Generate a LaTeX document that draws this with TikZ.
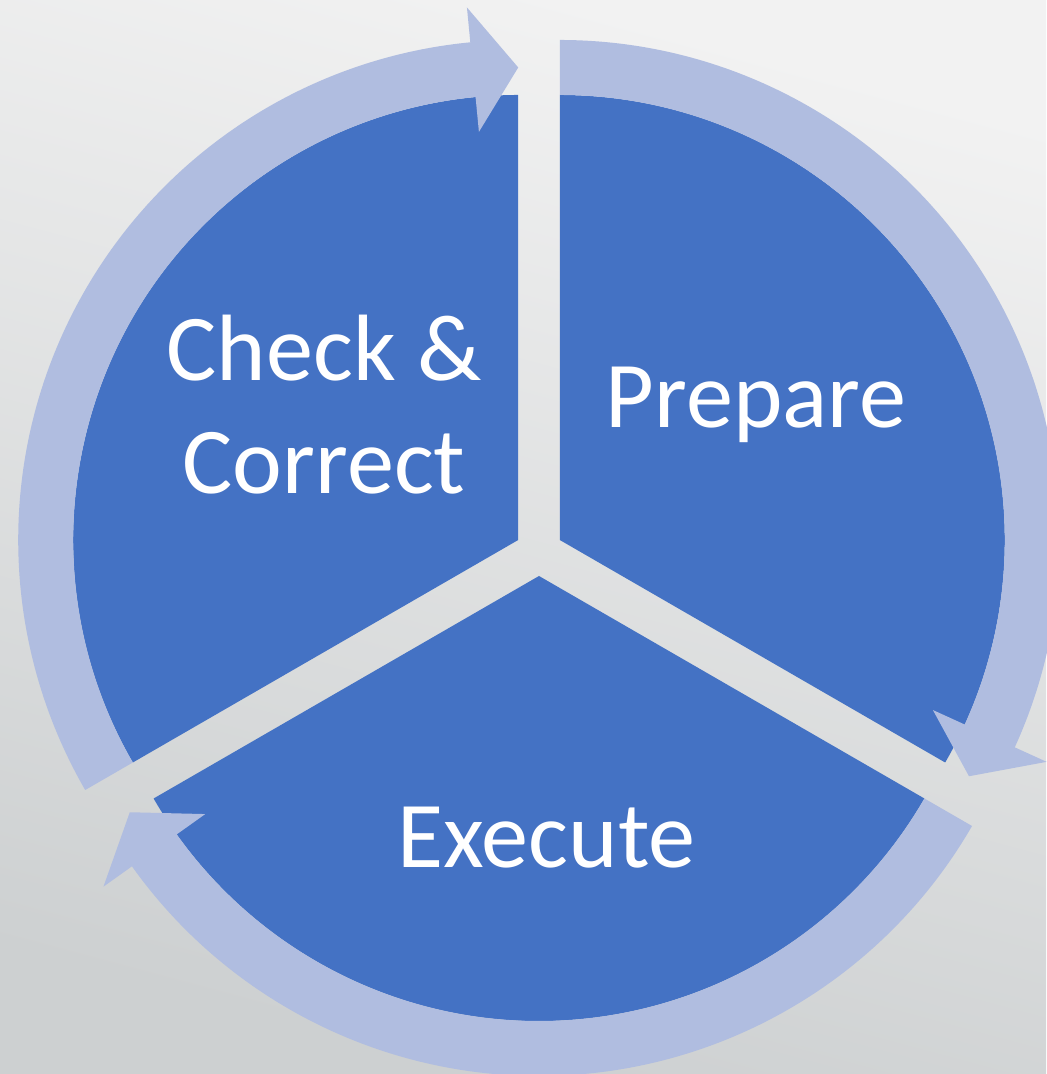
\documentclass[tikz,border=0pt]{standalone}
\usepackage{fontspec}
\setmainfont{Carlito}
\definecolor{secblue}{RGB}{68,114,196}
\definecolor{ringblue}{RGB}{176,189,224}
\definecolor{bgtop}{RGB}{242,242,242}
\definecolor{bgbot}{RGB}{205,208,209}
\tikzset{
  steptext/.style={text=white,font=\fontsize{26.8}{32.4}\selectfont,
    inner sep=0pt,anchor=base,align=center}
}
\begin{document}
\begin{tikzpicture}[x=0.01cm,y=0.01cm]
  % Hintergrund
  \useasboundingbox (-539,-522) rectangle (507,552);
  \shade[top color=bgtop,bottom color=bgbot,shading angle=-15] (-539,-522) rectangle (507,552);
  % Segmente mit Pfeilring
  \foreach \b in {30,150,270} {
    \begin{scope}[shift={(\b:24)}]
      \fill[secblue] (0,0) -- ({\b+60}:445) arc[start angle=\b+60,end angle=\b-60,radius=445] -- cycle;
      \fill[ringblue] ({\b+60}:500) arc[start angle=\b+60,end angle=\b-54.5,radius=500]
        -- ({\b-54.5}:535) -- ({\b-60}:472.5) -- ({\b-54.5}:410) -- ({\b-54.5}:445)
        arc[start angle=\b-54.5,end angle=\b+60,radius=445] -- cycle;
    \end{scope}
  }
  % Beschriftung
  \node[steptext] (check) at (-215,58) {Check \&\\Correct};
  \node[steptext] (prep) at (217,124) {Prepare};
  \node[steptext] (exec) at (7.5,-315) {Execute};
\end{tikzpicture}
\end{document}
